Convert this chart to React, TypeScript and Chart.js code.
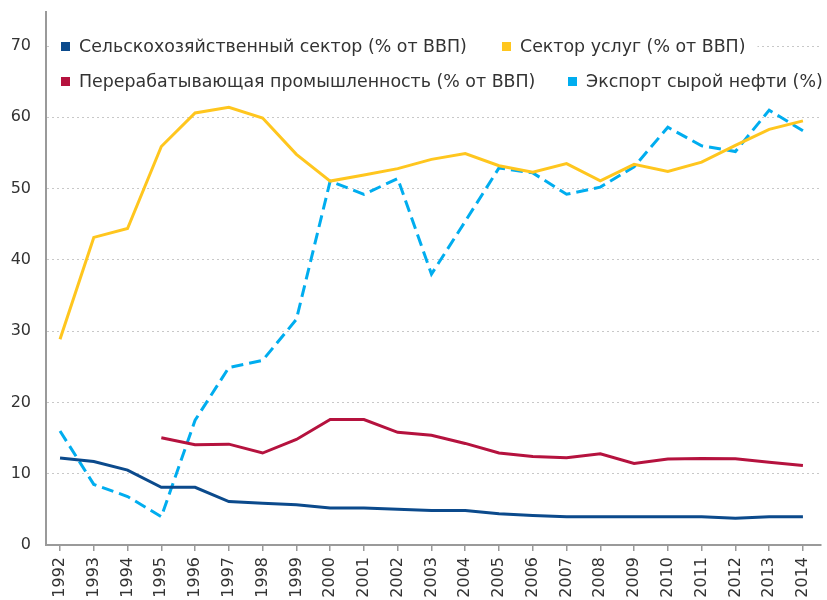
import React, { useEffect, useRef } from 'react';
import { Chart, registerables } from 'chart.js';

Chart.register(...registerables);

const years = [1992, 1993, 1994, 1995, 1996, 1997, 1998, 1999, 2000, 2001, 2002, 2003, 2004, 2005, 2006, 2007, 2008, 2009, 2010, 2011, 2012, 2013, 2014];
const agriculture = [12.2, 11.7, 10.5, 8.1, 8.1, 6.1, 5.85, 5.65, 5.2, 5.2, 5.0, 4.85, 4.85, 4.4, 4.15, 3.97, 3.97, 3.97, 3.97, 3.95, 3.74, 3.97, 3.97];
const manufacturing = [null, null, null, 15.05, 14.07, 14.15, 12.9, 14.8, 17.6, 17.6, 15.8, 15.4, 14.25, 12.9, 12.4, 12.25, 12.8, 11.45, 12.06, 12.15, 12.1, 11.6, 11.15];
const services = [28.85, 43.15, 44.4, 55.9, 60.6, 61.4, 59.9, 54.8, 51.05, 51.9, 52.8, 54.1, 54.9, 53.2, 52.3, 53.5, 51.1, 53.4, 52.4, 53.7, 56.05, 58.3, 59.5];
const oilExport = [16.0, 8.5, 6.8, 3.97, 17.5, 24.9, 25.9, 31.65, 51.05, 49.2, 51.4, 38.0, 45.4, 52.9, 52.2, 49.2, 50.2, 53.05, 58.6, 56.0, 55.2, 61.0, 58.1];
const yTicks = [0, 10, 20, 30, 40, 50, 60, 70];

const seriesNames = [
  'Сельскохозяйственный сектор (% от ВВП)',
  'Перерабатывающая промышленность (% от ВВП)',
  'Сектор услуг (% от ВВП)',
  'Экспорт сырой нефти (%)',
];
const seriesColors = ['#0b4a8c', '#b5123e', '#ffc61e', '#00adef'];

const FONT = '"DejaVu Sans", Verdana, sans-serif';

const toPoints = (vals: (number | null)[]) => years.map((x, i) => ({ x, y: vals[i] }));

const legendPlugin = {
  id: 'customLegend',
  afterDraw(chart: any) {
    const ctx = chart.ctx as CanvasRenderingContext2D;
    ctx.save();
    ctx.font = `17.4px ${FONT}`;
    ctx.textBaseline = 'middle';
    const rows = [
      { y: 46.5, items: [{ i: 0, x: 61 }, { i: 2, x: 502 }] },
      { y: 81.5, items: [{ i: 1, x: 61 }, { i: 3, x: 568 }] },
    ];
    rows.forEach((row) => {
      const last = row.items[row.items.length - 1];
      const lastW = ctx.measureText(seriesNames[last.i]).width;
      ctx.fillStyle = '#ffffff';
      ctx.fillRect(52, row.y - 13, last.x + 18 + lastW + 12 - 52, 26);
      row.items.forEach((it) => {
        ctx.fillStyle = seriesColors[it.i];
        ctx.fillRect(it.x, row.y - 4.5, 9, 9);
        ctx.fillStyle = '#333333';
        ctx.fillText(seriesNames[it.i], it.x + 18, row.y + 1);
      });
    });
    ctx.restore();
  },
};

export default function App() {
  const canvasRef = useRef<HTMLCanvasElement | null>(null);

  useEffect(() => {
    const canvas = canvasRef.current;
    if (!canvas) return;
    const chart = new Chart(canvas, {
      type: 'line',
      data: {
        datasets: [
          {
            label: seriesNames[0],
            data: toPoints(agriculture),
            borderColor: seriesColors[0],
            borderWidth: 3,
            pointRadius: 0,
            tension: 0,
          },
          {
            label: seriesNames[1],
            data: toPoints(manufacturing),
            borderColor: seriesColors[1],
            borderWidth: 3,
            pointRadius: 0,
            tension: 0,
          },
          {
            label: seriesNames[2],
            data: toPoints(services),
            borderColor: seriesColors[2],
            borderWidth: 3,
            pointRadius: 0,
            tension: 0,
          },
          {
            label: seriesNames[3],
            data: toPoints(oilExport),
            borderColor: seriesColors[3],
            borderWidth: 3,
            borderDash: [12, 6],
            pointRadius: 0,
            tension: 0,
          },
        ],
      },
      options: {
        animation: false,
        responsive: false,
        devicePixelRatio: 1,
        layout: { padding: { left: 0, top: 12, right: 6, bottom: 0 } },
        plugins: {
          legend: { display: false },
          tooltip: { enabled: false },
        },
        scales: {
          x: {
            type: 'linear',
            min: 1991.585,
            max: 2014.535,
            afterFit: (scale: any) => {
              scale.height = 55;
              scale.paddingLeft = 0;
              scale.paddingRight = 0;
              scale.paddingTop = 0;
              scale.paddingBottom = 0;
            },
            afterBuildTicks: (scale: any) => {
              scale.ticks = years.map((v) => ({ value: v }));
            },
            ticks: {
              autoSkip: false,
              minRotation: 90,
              maxRotation: 90,
              padding: 6,
              color: '#333333',
              font: { family: FONT, size: 16 },
              callback: (v: any) => String(v),
            },
            grid: {
              drawOnChartArea: false,
              drawTicks: true,
              tickLength: 6,
              color: '#9a9a9a',
              lineWidth: 1.5,
            },
            border: { display: true, color: '#9a9a9a', width: 2 },
          },
          y: {
            type: 'linear',
            min: 0,
            max: 74.77,
            afterFit: (scale: any) => {
              scale.width = 46;
              scale.paddingLeft = 0;
              scale.paddingRight = 0;
              scale.paddingTop = 0;
              scale.paddingBottom = 0;
            },
            afterBuildTicks: (scale: any) => {
              scale.ticks = yTicks.map((v) => ({ value: v }));
            },
            ticks: {
              padding: 15,
              color: '#333333',
              font: { family: FONT, size: 16 },
            },
            grid: {
              drawTicks: false,
              color: '#c8c8c8',
              lineWidth: 1,
            },
            border: { display: true, color: '#9a9a9a', width: 2, dash: [2, 3] },
          },
        },
      },
      plugins: [legendPlugin],
    } as any);
    return () => chart.destroy();
  }, []);

  return (
    <div style={{ position: 'fixed', left: 0, top: 0, width: 827, height: 600, background: '#fff' }}>
      <canvas ref={canvasRef} width={827} height={600} style={{ display: 'block' }} />
    </div>
  );
}
